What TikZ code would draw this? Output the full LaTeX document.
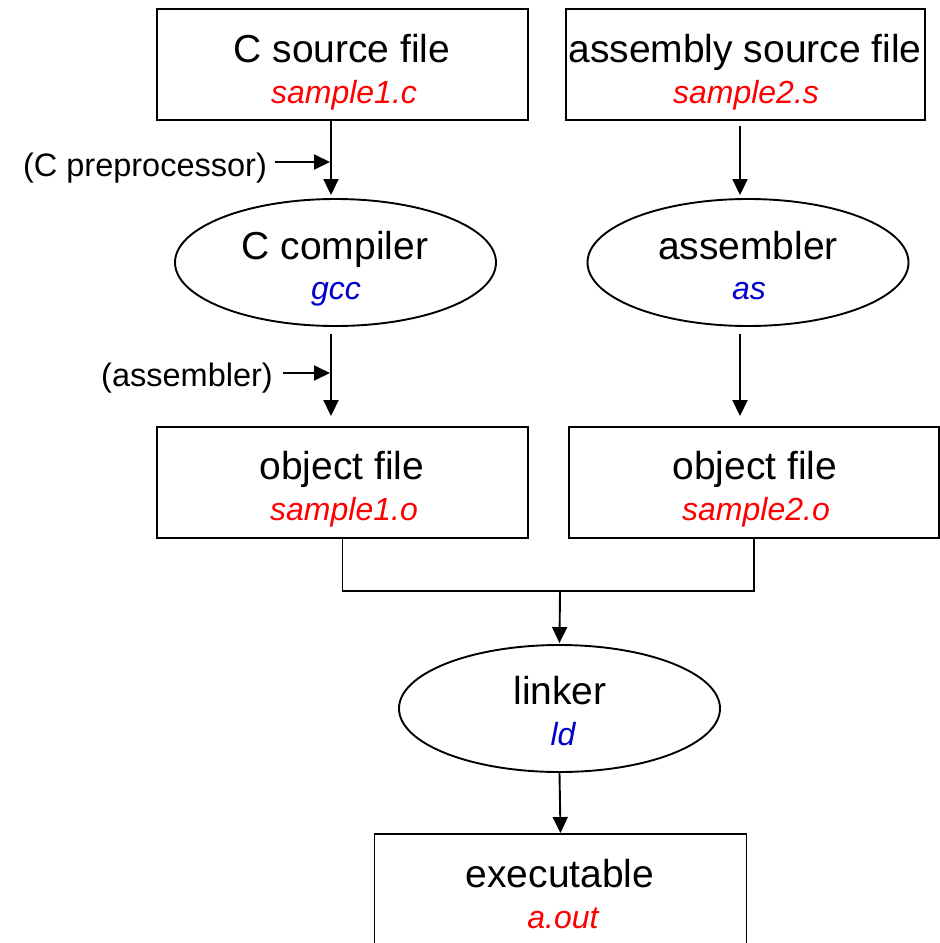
\documentclass[tikz,border=0pt]{standalone}
\usepackage{fontspec}
\setmainfont{Liberation Sans}
\usetikzlibrary{arrows.meta,shapes.geometric,calc}
\definecolor{fname}{RGB}{255,0,0}
\definecolor{tool}{RGB}{0,0,204}
\begin{document}
\begin{tikzpicture}[x=1pt,y=-1pt,
  line/.style={line width=1.9pt},
  arr/.style={line, -{Triangle[length=16pt,width=15pt]}},
  filebox/.style={draw, line, rectangle, inner sep=0pt, minimum width=#1, minimum height=111pt},
  progell/.style={draw, line, ellipse, inner sep=0pt, minimum width=321pt, minimum height=127pt},
  maintxt/.style={font=\fontsize{39}{47}\selectfont, inner sep=0pt, anchor=base},
  subtxt/.style={font=\fontsize{32}{38}\selectfont\itshape, inner sep=0pt, anchor=base},
  note/.style={font=\fontsize{32.5}{39}\selectfont, inner sep=0pt, anchor=base}
]
\useasboundingbox (0,0) rectangle (940,943);

% source files
\node[filebox=371pt] (srcC) at (342.5,64.5) {};
\node[maintxt] (srcCt) at (342,62) {C source file};
\node[subtxt, fname] (srcCf) at (344,103) {sample1.c};

\node[filebox=359pt] (srcS) at (745.5,64.5) {};
\node[maintxt] (srcSt) at (745,62) {assembly source file};
\node[subtxt, fname] (srcSf) at (746,103) {sample2.s};

% translators
\node[progell] (cc) at (335.5,262.5) {};
\node[maintxt] (cct) at (335,259) {C compiler};
\node[subtxt, tool] (ccf) at (336,299) {gcc};

\node[progell] (as) at (748,262.5) {};
\node[maintxt] (ast) at (748,259) {assembler};
\node[subtxt, tool] (asf) at (749,299) {as};

% object files
\node[filebox=371pt] (o1) at (342.5,482.5) {};
\node[maintxt] (o1t) at (342,479) {object file};
\node[subtxt, fname] (o1f) at (344,520) {sample1.o};

\node[filebox=370pt] (o2) at (754,482.5) {};
\node[maintxt] (o2t) at (755,479) {object file};
\node[subtxt, fname] (o2f) at (756,520) {sample2.o};

% linker and output
\node[progell] (lk) at (559.5,708.5) {};
\node[maintxt] (lkt) at (560,704) {linker};
\node[subtxt, tool] (lkf) at (563,745) {ld};

\node[filebox=372pt, minimum height=130pt] (exe) at (560.5,899) {};
\node[maintxt] (exet) at (560,887) {executable};
\node[subtxt, fname] (exef) at (563,928) {a.out};

% side notes
\node[note] (pp) at (145,176) {(C preprocessor)};
\node[note] (asm) at (187,386) {(assembler)};

% flow arrows
\coordinate (c1) at (331,0);
\coordinate (c2) at (740,0);
\draw[arr] (srcC.south -| c1) -- ($(cc.north -| c1)+(0,-3)$);
\draw[arr] ($(srcS.south -| c2)+(0,5)$) -- ($(as.north -| c2)+(0,-3)$);
\draw[arr] ($(cc.south -| c1)+(0,7)$) -- ($(o1.north -| c1)+(0,-10)$);
\draw[arr] ($(as.south -| c2)+(0,7)$) -- ($(o2.north -| c2)+(0,-10)$);

\coordinate (pptip) at (330,162);
\coordinate (asmtip) at (330,373);
\draw[arr] (pp.east |- pptip) ++(8,0) -- (pptip);
\draw[arr] (asm.east |- asmtip) ++(10,0) -- (asmtip);

% join of the object files
\coordinate (j) at (560,591);
\draw[line] (o1.south) |- (j) -| (o2.south);
\draw[arr] (j) -- ($(lk.north)+(0,-1)$);
\draw[arr] (lk.south) -- (exe.north);
\end{tikzpicture}
\end{document}
